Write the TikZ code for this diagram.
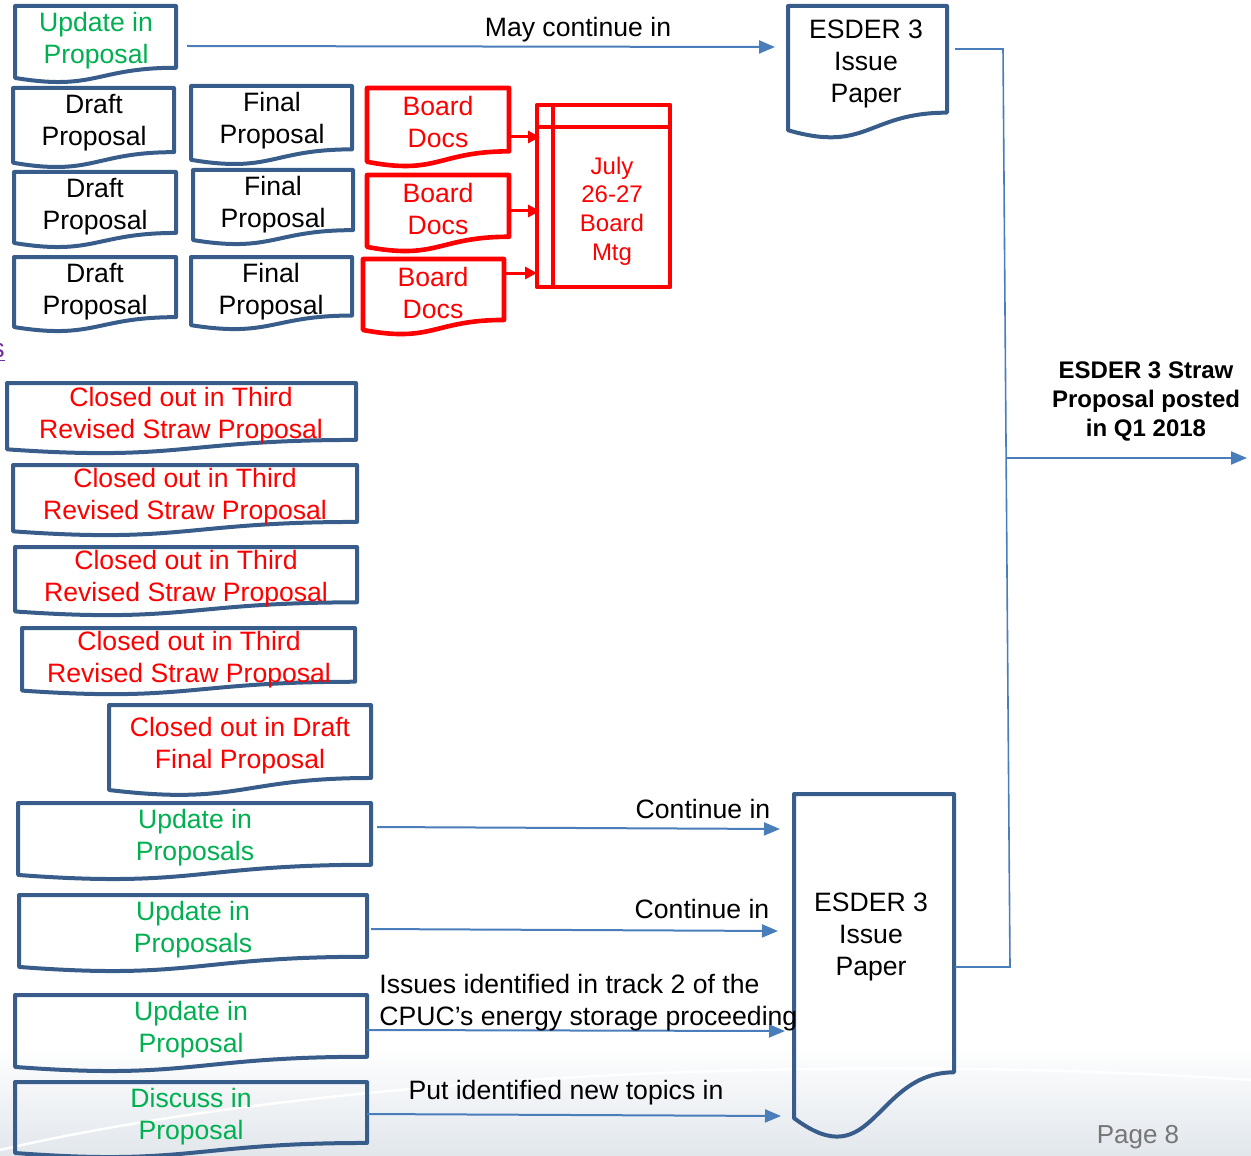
\documentclass[tikz,border=0pt]{standalone}
\usepackage{fontspec}
\setmainfont{Liberation Sans}
\usetikzlibrary{arrows.meta}
\definecolor{docblue}{RGB}{56,93,138}
\definecolor{lineblue}{RGB}{74,126,187}
\definecolor{pgreen}{RGB}{0,176,80}
\definecolor{pred}{RGB}{255,0,0}
\definecolor{ppurple}{RGB}{112,48,160}
\definecolor{pgray}{RGB}{118,118,118}
\tikzset{
  docline/.style={draw=docblue, line width=2pt, line join=round},
  redline/.style={draw=pred, line width=2.3pt, line join=round},
  txt/.style={align=center, inner sep=0pt, font=\fontsize{13.3}{16}\selectfont},
  conn/.style={draw=lineblue, line width=1pt, -{Triangle[length=8pt,width=6.5pt]}},
  redarrow/.style={draw=pred, line width=1.5pt, -{Triangle[length=6pt,width=6pt]}},
  bracketline/.style={draw=lineblue, line width=0.8pt},
}
% #1 style, #2 x, #3 y, #4 w, #5 h  (PowerPoint flowchart document shape)
\newcommand\docshape[5][docline]{%
  \pgfmathsetmacro\dxa{#2+#4}%
  \pgfmathsetmacro\dya{#3+0.802*#5}%
  \pgfmathsetmacro\dxm{#2+0.5*#4}%
  \pgfmathsetmacro\dyb{#3+1.1075*#5}%
  \pgfmathsetmacro\dyc{#3+0.934*#5}%
  \draw[#1] (#2,#3) -- (\dxa,#3) -- (\dxa,\dya) .. controls (\dxm,\dya) and (\dxm,\dyb) .. (#2,\dyc) -- cycle;
}
\begin{document}
\begin{tikzpicture}[x=0.5pt,y=-0.5pt]
\useasboundingbox (0,0) rectangle (1251,1155);
% background swoosh at the bottom
\shade[top color=white, bottom color={rgb,255:red,226;green,231;blue,236}] (0,1045) rectangle (1251,1155);
\draw[white, line width=1.2pt] (0,1150) .. controls (300,1080) and (800,1050) .. (1251,1080);

% fragment at left edge
\node[anchor=east, text=ppurple, font=\fontsize{13.3}{16}\selectfont, inner sep=0pt] (frag) at (5,352) {\underline{s}};

% ---------------- top region ----------------
\docshape{15}{6}{161}{77}
\node[txt, text=pgreen] (upd0) at (96,41) {Update in\\Proposal};

\docshape{13}{88}{161}{80}
\node[txt] (draft1) at (94,123) {Draft\\Proposal};
\docshape{191}{86}{161}{79}
\node[txt] (final1) at (272,121) {Final\\Proposal};
\docshape{14}{172}{162}{76}
\node[txt] (draft2) at (95,207) {Draft\\Proposal};
\docshape{193}{170}{160}{75}
\node[txt] (final2) at (273,205) {Final\\Proposal};
\docshape{14}{257}{162}{75}
\node[txt] (draft3) at (95,292) {Draft\\Proposal};
\docshape{191}{257}{161}{73}
\node[txt] (final3) at (271,292) {Final\\Proposal};

\docshape[redline]{367}{88}{142}{79}
\node[txt, text=pred] (board1) at (438,122) {Board\\Docs};
\docshape[redline]{367}{175}{142}{77}
\node[txt, text=pred] (board2) at (438,209) {Board\\Docs};
\docshape[redline]{363}{259}{141}{76}
\node[txt, text=pred] (board3) at (433,293) {Board\\Docs};

% July board meeting (internal storage shape)
\draw[redline] (537,105) rectangle (670,287);
\draw[redline] (553,105) -- (553,287);
\draw[redline] (537,127) -- (670,127);
\node[align=center, inner sep=0pt, font=\fontsize{12}{14.3}\selectfont, text=pred] (july) at (612,211) {July\\26-27\\Board\\Mtg};

\coordinate (b1s) at (511,137); \coordinate (b1e) at (540,137);
\coordinate (b2s) at (509,211); \coordinate (b2e) at (540,211);
\coordinate (b3s) at (505,273); \coordinate (b3e) at (537,273);
\draw[redarrow] (b1s) -- (b1e);
\draw[redarrow] (b2s) -- (b2e);
\draw[redarrow] (b3s) -- (b3e);

% ESDER 3 Issue Paper (top)
\docshape{788}{6}{159}{133}
\node[txt] (esderA) at (866,64) {ESDER 3\\Issue\\Paper};

\coordinate (topS) at (187,46); \coordinate (topE) at (775,47);
\draw[conn] (topS) -- (topE);
\node[txt] (maycont) at (578,30) {May continue in};

% ---------------- closed-out boxes ----------------
\docshape{7}{383}{349}{71}
\node[txt, text=pred] (closed1) at (181,416) {Closed out in Third\\Revised Straw Proposal};
\docshape{13}{465}{344}{71}
\node[txt, text=pred] (closed2) at (185,497) {Closed out in Third\\Revised Straw Proposal};
\docshape{15}{547}{342}{69}
\node[txt, text=pred] (closed3) at (186,579) {Closed out in Third\\Revised Straw Proposal};
\docshape{22}{628}{333}{67}
\node[txt, text=pred] (closed4) at (189,660) {Closed out in Third\\Revised Straw Proposal};
\docshape{109}{705}{262}{91}
\node[txt, text=pred] (closed5) at (240,746) {Closed out in Draft\\Final Proposal};

% ---------------- bottom boxes ----------------
\docshape{18}{803}{353}{77}
\node[txt, text=pgreen] (upd1) at (195,838) {Update in\\Proposals};
\docshape{19}{895}{348}{77}
\node[txt, text=pgreen] (upd2) at (193,930) {Update in\\Proposals};
\docshape{15}{995}{352}{77}
\node[txt, text=pgreen] (upd3) at (191,1030) {Update in\\Proposal};
\docshape{15}{1082}{352}{76}
\node[txt, text=pgreen] (disc) at (191,1117) {Discuss in\\Proposal};

% ESDER 3 Issue Paper (bottom)
\docshape{794}{794}{160}{347}
\node[txt] (esderB) at (871,937) {ESDER 3\\Issue\\Paper};

\coordinate (c1s) at (377,827); \coordinate (c1e) at (780,829);
\coordinate (c2s) at (371,929); \coordinate (c2e) at (778,931);
\coordinate (c3s) at (367,1030); \coordinate (c3e) at (785,1031);
\coordinate (c4s) at (367,1114); \coordinate (c4e) at (781,1116);
\draw[conn] (c1s) -- (c1e);
\draw[conn] (c2s) -- (c2e);
\draw[conn] (c3s) -- (c3e);
\draw[conn] (c4s) -- (c4e);
\node[txt] (lab1) at (703,809) {Continue in};
\node[txt] (lab2) at (702,909) {Continue in};
\node[txt, anchor=west, align=left] (lab3) at (379,1003) {Issues identified in track 2 of the\\CPUC’s energy storage proceeding};
\node[txt] (lab4) at (566,1093) {Put identified new topics in};

% bracket joining the two issue papers
\coordinate (brA) at (955,49); \coordinate (brB) at (1003,49);
\coordinate (brC) at (1010,967); \coordinate (brD) at (955,967);
\draw[bracketline] (brA) -- (brB) -- (brC) -- (brD);
\coordinate (stS) at (1006,458); \coordinate (stE) at (1247,458);
\draw[conn] (stS) -- (stE);
\node[align=center, inner sep=0pt, font=\bfseries\fontsize{12}{14.5}\selectfont] (straw) at (1146,401) {ESDER 3 Straw\\Proposal posted\\in Q1 2018};

\node[inner sep=0pt, text=pgray, font=\fontsize{13}{16}\selectfont] (page) at (1138,1137) {Page 8};
\end{tikzpicture}
\end{document}
